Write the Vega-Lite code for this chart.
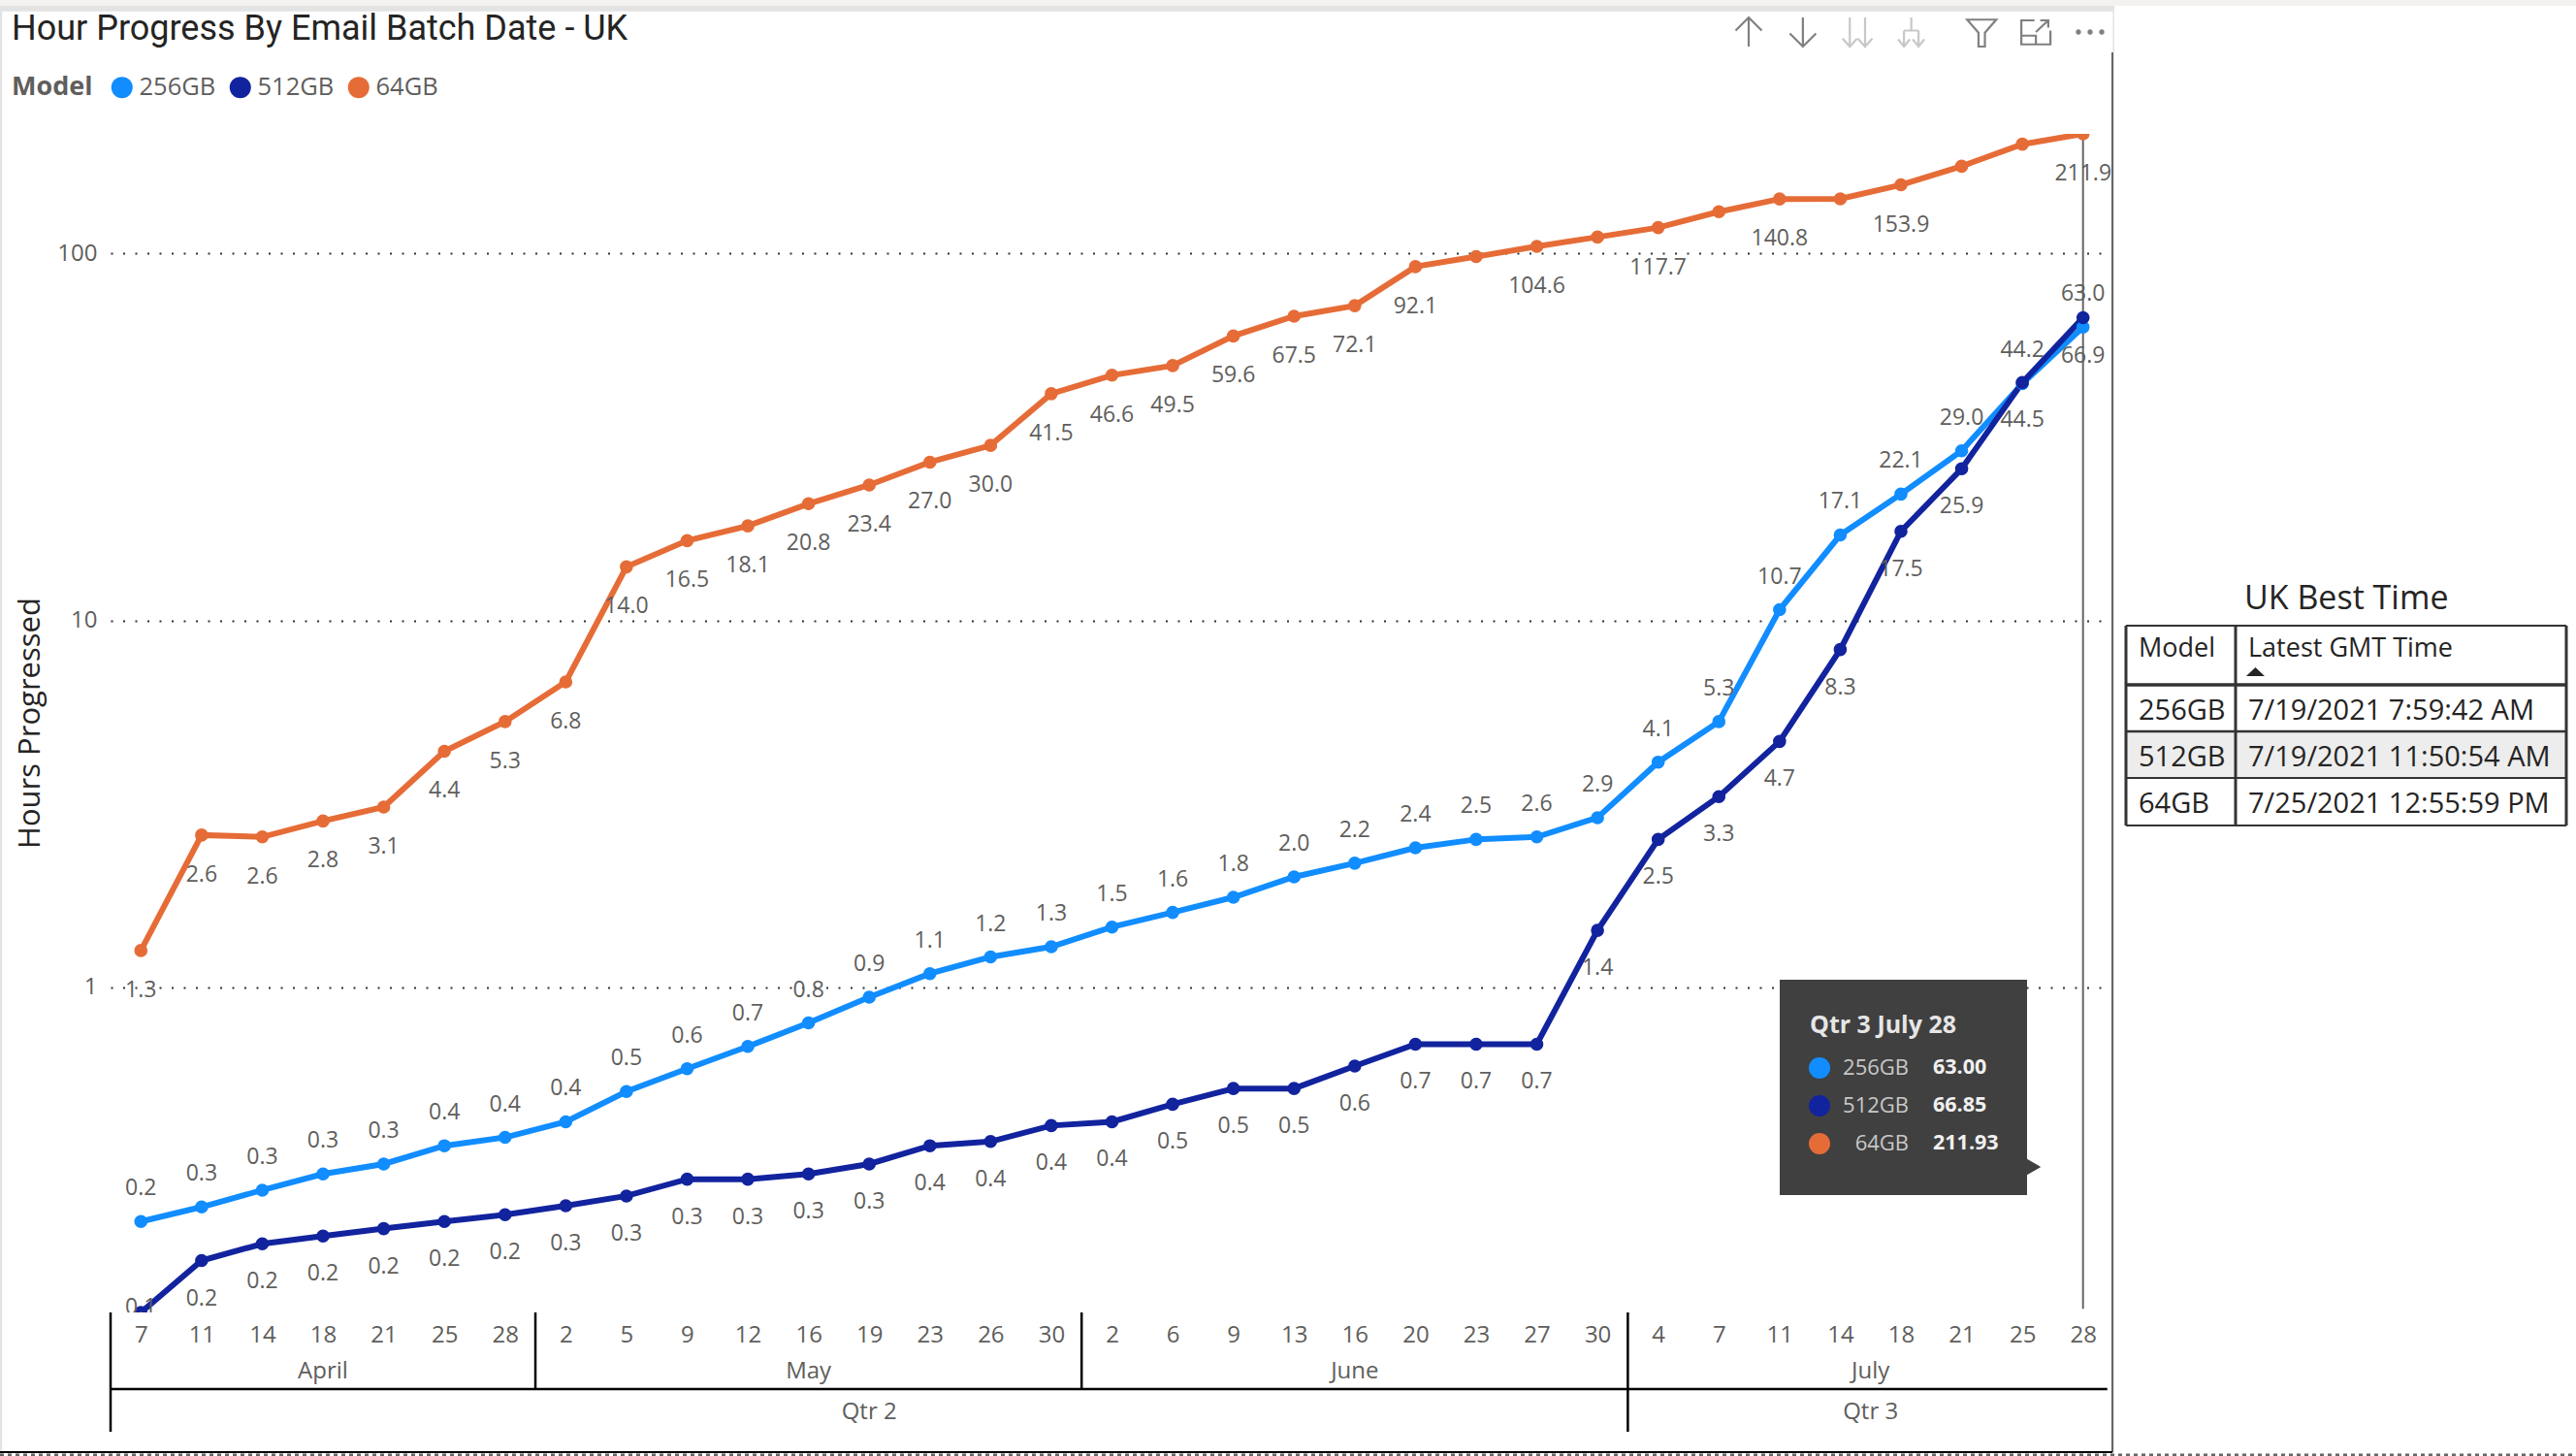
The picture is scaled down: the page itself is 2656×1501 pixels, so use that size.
{
  "$schema": "https://vega.github.io/schema/vega-lite/v6.json",
  "autosize": {"type": "none"},
  "padding": {"left": 121, "top": 138, "right": 489, "bottom": 148},
  "width": 2046,
  "height": 1215,
  "background": "#ffffff",
  "title": {
    "text": "Hour Progress By Email Batch Date - UK",
    "anchor": "start",
    "frame": "group",
    "dx": -109,
    "offset": -49,
    "font": "Roboto",
    "fontSize": 36,
    "fontWeight": "normal",
    "color": "#252423"
  },
  "config": {"font": "Open Sans", "view": {"stroke": null}},
  "datasets": {
    "series": [
      {"date": "2021-04-07", "Model": "256GB", "hours": 0.23},
      {"date": "2021-04-11", "Model": "256GB", "hours": 0.252},
      {"date": "2021-04-14", "Model": "256GB", "hours": 0.28},
      {"date": "2021-04-18", "Model": "256GB", "hours": 0.31},
      {"date": "2021-04-21", "Model": "256GB", "hours": 0.33},
      {"date": "2021-04-25", "Model": "256GB", "hours": 0.37},
      {"date": "2021-04-28", "Model": "256GB", "hours": 0.39},
      {"date": "2021-05-02", "Model": "256GB", "hours": 0.43},
      {"date": "2021-05-05", "Model": "256GB", "hours": 0.52},
      {"date": "2021-05-09", "Model": "256GB", "hours": 0.6},
      {"date": "2021-05-12", "Model": "256GB", "hours": 0.69},
      {"date": "2021-05-16", "Model": "256GB", "hours": 0.8},
      {"date": "2021-05-19", "Model": "256GB", "hours": 0.94},
      {"date": "2021-05-23", "Model": "256GB", "hours": 1.09},
      {"date": "2021-05-26", "Model": "256GB", "hours": 1.21},
      {"date": "2021-05-30", "Model": "256GB", "hours": 1.29},
      {"date": "2021-06-02", "Model": "256GB", "hours": 1.46},
      {"date": "2021-06-06", "Model": "256GB", "hours": 1.6},
      {"date": "2021-06-09", "Model": "256GB", "hours": 1.76},
      {"date": "2021-06-13", "Model": "256GB", "hours": 2.0},
      {"date": "2021-06-16", "Model": "256GB", "hours": 2.18},
      {"date": "2021-06-20", "Model": "256GB", "hours": 2.4},
      {"date": "2021-06-23", "Model": "256GB", "hours": 2.53},
      {"date": "2021-06-27", "Model": "256GB", "hours": 2.57},
      {"date": "2021-06-30", "Model": "256GB", "hours": 2.9},
      {"date": "2021-07-04", "Model": "256GB", "hours": 4.11},
      {"date": "2021-07-07", "Model": "256GB", "hours": 5.3},
      {"date": "2021-07-11", "Model": "256GB", "hours": 10.7},
      {"date": "2021-07-14", "Model": "256GB", "hours": 17.1},
      {"date": "2021-07-18", "Model": "256GB", "hours": 22.1},
      {"date": "2021-07-21", "Model": "256GB", "hours": 29.0},
      {"date": "2021-07-25", "Model": "256GB", "hours": 44.2},
      {"date": "2021-07-28", "Model": "256GB", "hours": 63.0},
      {"date": "2021-04-07", "Model": "512GB", "hours": 0.13},
      {"date": "2021-04-11", "Model": "512GB", "hours": 0.18},
      {"date": "2021-04-14", "Model": "512GB", "hours": 0.2},
      {"date": "2021-04-18", "Model": "512GB", "hours": 0.21},
      {"date": "2021-04-21", "Model": "512GB", "hours": 0.22},
      {"date": "2021-04-25", "Model": "512GB", "hours": 0.23},
      {"date": "2021-04-28", "Model": "512GB", "hours": 0.24},
      {"date": "2021-05-02", "Model": "512GB", "hours": 0.254},
      {"date": "2021-05-05", "Model": "512GB", "hours": 0.27},
      {"date": "2021-05-09", "Model": "512GB", "hours": 0.3},
      {"date": "2021-05-12", "Model": "512GB", "hours": 0.3},
      {"date": "2021-05-16", "Model": "512GB", "hours": 0.31},
      {"date": "2021-05-19", "Model": "512GB", "hours": 0.33},
      {"date": "2021-05-23", "Model": "512GB", "hours": 0.37},
      {"date": "2021-05-26", "Model": "512GB", "hours": 0.38},
      {"date": "2021-05-30", "Model": "512GB", "hours": 0.42},
      {"date": "2021-06-02", "Model": "512GB", "hours": 0.43},
      {"date": "2021-06-06", "Model": "512GB", "hours": 0.48},
      {"date": "2021-06-09", "Model": "512GB", "hours": 0.53},
      {"date": "2021-06-13", "Model": "512GB", "hours": 0.53},
      {"date": "2021-06-16", "Model": "512GB", "hours": 0.61},
      {"date": "2021-06-20", "Model": "512GB", "hours": 0.7},
      {"date": "2021-06-23", "Model": "512GB", "hours": 0.7},
      {"date": "2021-06-27", "Model": "512GB", "hours": 0.7},
      {"date": "2021-06-30", "Model": "512GB", "hours": 1.43},
      {"date": "2021-07-04", "Model": "512GB", "hours": 2.53},
      {"date": "2021-07-07", "Model": "512GB", "hours": 3.31},
      {"date": "2021-07-11", "Model": "512GB", "hours": 4.68},
      {"date": "2021-07-14", "Model": "512GB", "hours": 8.33},
      {"date": "2021-07-18", "Model": "512GB", "hours": 17.5},
      {"date": "2021-07-21", "Model": "512GB", "hours": 25.9},
      {"date": "2021-07-25", "Model": "512GB", "hours": 44.5},
      {"date": "2021-07-28", "Model": "512GB", "hours": 66.854},
      {"date": "2021-04-07", "Model": "64GB", "hours": 1.26},
      {"date": "2021-04-11", "Model": "64GB", "hours": 2.6},
      {"date": "2021-04-14", "Model": "64GB", "hours": 2.57},
      {"date": "2021-04-18", "Model": "64GB", "hours": 2.84},
      {"date": "2021-04-21", "Model": "64GB", "hours": 3.1},
      {"date": "2021-04-25", "Model": "64GB", "hours": 4.4},
      {"date": "2021-04-28", "Model": "64GB", "hours": 5.3},
      {"date": "2021-05-02", "Model": "64GB", "hours": 6.8},
      {"date": "2021-05-05", "Model": "64GB", "hours": 14.0},
      {"date": "2021-05-09", "Model": "64GB", "hours": 16.5},
      {"date": "2021-05-12", "Model": "64GB", "hours": 18.1},
      {"date": "2021-05-16", "Model": "64GB", "hours": 20.8},
      {"date": "2021-05-19", "Model": "64GB", "hours": 23.4},
      {"date": "2021-05-23", "Model": "64GB", "hours": 27.0},
      {"date": "2021-05-26", "Model": "64GB", "hours": 30.0},
      {"date": "2021-05-30", "Model": "64GB", "hours": 41.5},
      {"date": "2021-06-02", "Model": "64GB", "hours": 46.6},
      {"date": "2021-06-06", "Model": "64GB", "hours": 49.5},
      {"date": "2021-06-09", "Model": "64GB", "hours": 59.6},
      {"date": "2021-06-13", "Model": "64GB", "hours": 67.5},
      {"date": "2021-06-16", "Model": "64GB", "hours": 72.1},
      {"date": "2021-06-20", "Model": "64GB", "hours": 92.1},
      {"date": "2021-06-23", "Model": "64GB", "hours": 98.1},
      {"date": "2021-06-27", "Model": "64GB", "hours": 104.6},
      {"date": "2021-06-30", "Model": "64GB", "hours": 110.9},
      {"date": "2021-07-04", "Model": "64GB", "hours": 117.7},
      {"date": "2021-07-07", "Model": "64GB", "hours": 130.0},
      {"date": "2021-07-11", "Model": "64GB", "hours": 140.8},
      {"date": "2021-07-14", "Model": "64GB", "hours": 141.0},
      {"date": "2021-07-18", "Model": "64GB", "hours": 153.9},
      {"date": "2021-07-21", "Model": "64GB", "hours": 173.0},
      {"date": "2021-07-25", "Model": "64GB", "hours": 198.6},
      {"date": "2021-07-28", "Model": "64GB", "hours": 211.93}
    ],
    "crosshair": [{"date": "2021-07-28", "low": 0.133, "high": 211.93}],
    "axisLines": [
      {"pos": 0, "pos2": 32.9, "level": 3},
      {"pos": 0, "level": 0, "level2": 5},
      {"pos": 7, "level": 0, "level2": 3},
      {"pos": 16, "level": 0, "level2": 3},
      {"pos": 25, "level": 0, "level2": 5}
    ],
    "axisText": [
      {"label": "April", "pos": 3.5, "level": 2},
      {"label": "May", "pos": 11.5, "level": 2},
      {"label": "June", "pos": 20.5, "level": 2},
      {"label": "July", "pos": 29, "level": 2},
      {"label": "Qtr 2", "pos": 12.5, "level": 4},
      {"label": "Qtr 3", "pos": 29, "level": 4}
    ],
    "tipBox": [{"col": 0, "col2": 5, "row": 0, "row2": 5}],
    "tipArrow": [{"col": 6, "row": 4.5}],
    "tipTitle": [{"col": 1, "row": 1, "label": "Qtr 3 July 28"}],
    "tipRows": [
      {"Model": "256GB", "value": "63.00", "row": 2, "swatch": 2, "name": 3, "number": 4},
      {"Model": "512GB", "value": "66.85", "row": 3, "swatch": 2, "name": 3, "number": 4},
      {"Model": "64GB", "value": "211.93", "row": 4, "swatch": 2, "name": 3, "number": 4}
    ],
    "tableStripe": [{"col": 0, "col2": 2, "row": 2, "row2": 3}],
    "tableRows": [
      {"col": 0, "col2": 2, "row": 0, "weight": 2},
      {"col": 0, "col2": 2, "row": 1, "weight": 3.5},
      {"col": 0, "col2": 2, "row": 2, "weight": 2.5},
      {"col": 0, "col2": 2, "row": 3, "weight": 2},
      {"col": 0, "col2": 2, "row": 4, "weight": 2}
    ],
    "tableCols": [
      {"col": 0, "row": 0, "row2": 4},
      {"col": 1, "row": 0, "row2": 4},
      {"col": 2, "row": 0, "row2": 4}
    ],
    "tableHead": [
      {"col": 0, "row": 0.4, "text": "Model"},
      {"col": 1, "row": 0.4, "text": "Latest GMT Time"}
    ],
    "tableText": [
      {"col": 0, "row": 1.56, "text": "256GB"},
      {"col": 1, "row": 1.56, "text": "7/19/2021 7:59:42 AM"},
      {"col": 0, "row": 2.56, "text": "512GB"},
      {"col": 1, "row": 2.56, "text": "7/19/2021 11:50:54 AM"},
      {"col": 0, "row": 3.56, "text": "64GB"},
      {"col": 1, "row": 3.56, "text": "7/25/2021 12:55:59 PM"}
    ],
    "tableSort": [{"col": 1.06, "row": 0.78}],
    "tableTitle": [{"col": 1.335, "row": -0.35, "text": "UK Best Time"}],
    "icons": [
      {"slot": 0, "icon": "up", "state": "on", "row": 0},
      {"slot": 1, "icon": "down", "state": "on", "row": 0},
      {"slot": 2, "icon": "double", "state": "off", "row": 0},
      {"slot": 3, "icon": "fork", "state": "off", "row": 0},
      {"slot": 4.3, "icon": "filter", "state": "on", "row": 0},
      {"slot": 5.3, "icon": "focus", "state": "on", "row": 0}
    ],
    "iconDots": [
      {"slot": 6.085, "row": 0},
      {"slot": 6.3, "row": 0},
      {"slot": 6.515, "row": 0}
    ],
    "frameFills": [
      {"x": 0, "x2": 2, "y": 0, "y2": 1, "part": "strip"},
      {"x": 0, "x2": 1.004, "y": 1, "y2": 1.12, "part": "edge"},
      {"x": 1.001, "x2": 1.004, "y": 1, "y2": 4, "part": "edge"},
      {"x": 0, "x2": 0.001, "y": 1, "y2": 4, "part": "edge"}
    ],
    "frameSide": [{"x": 1, "y": 2, "y2": 3}],
    "frameBase": [{"x": 0, "x2": 1, "y": 3}],
    "frameDots": [{"x": 0, "x2": 2, "y": 4}]
  },
  "layer": [
    {
      "encoding": {
        "x": {
          "field": "date",
          "type": "ordinal",
          "title": null,
          "scale": {"type": "point", "range": [-7, 2058], "padding": 0.5},
          "axis": {
            "labelExpr": "toNumber(split(datum.value, '-')[2])",
            "labelAngle": 0,
            "labelFontSize": 24,
            "labelColor": "#605E5C",
            "labelPadding": 11,
            "labelOverlap": false,
            "ticks": false,
            "domain": false,
            "grid": false
          }
        },
        "y": {
          "field": "hours",
          "type": "quantitative",
          "title": "Hours Progressed",
          "scale": {"type": "log", "domain": [0.13, 211.93], "nice": false},
          "axis": {
            "values": [1, 10, 100],
            "format": "d",
            "labelFontSize": 24,
            "labelColor": "#605E5C",
            "labelPadding": 21,
            "ticks": false,
            "domain": false,
            "grid": true,
            "gridColor": "#333333",
            "gridWidth": 2,
            "gridDash": [2, 10.5],
            "titleFontSize": 31,
            "titleFontWeight": "normal",
            "titleColor": "#252423",
            "titleX": -74,
            "titleY": 607
          }
        }
      },
      "layer": [
        {
          "data": {"name": "crosshair"},
          "mark": {"type": "rule", "color": "#666666", "strokeWidth": 2},
          "encoding": {
            "y": {"field": "low", "type": "quantitative"},
            "y2": {"field": "high"}
          }
        },
        {
          "data": {"name": "series"},
          "mark": {"type": "line", "strokeWidth": 6, "clip": true},
          "encoding": {
            "stroke": {
              "field": "Model",
              "type": "nominal",
              "scale": {"domain": ["256GB", "512GB", "64GB"], "range": ["#118DFF", "#12239E", "#E66C37"]},
              "legend": null
            }
          }
        },
        {
          "data": {"name": "series"},
          "mark": {"type": "point", "filled": true, "opacity": 1, "size": 185, "clip": true},
          "encoding": {
            "color": {
              "field": "Model",
              "type": "nominal",
              "scale": {"domain": ["256GB", "512GB", "64GB"], "range": ["#118DFF", "#12239E", "#E66C37"]},
              "legend": {
                "orient": "none",
                "legendX": -109,
                "legendY": -61,
                "direction": "horizontal",
                "columns": 3,
                "title": "Model",
                "titleOrient": "left",
                "titleFontSize": 27,
                "titleFontWeight": "bold",
                "titleColor": "#605E5C",
                "titlePadding": 17,
                "labelFontSize": 25.5,
                "labelColor": "#605E5C",
                "labelOffset": 5,
                "symbolType": "circle",
                "symbolSize": 484,
                "symbolStrokeWidth": 0,
                "columnPadding": 12
              }
            }
          }
        },
        {
          "data": {"name": "series"},
          "transform": [{"filter": "datum.Model == '256GB'"}],
          "mark": {"type": "text", "fontSize": 23, "color": "#605E5C", "dy": -34},
          "encoding": {"text": {"field": "hours", "type": "quantitative", "format": ".1f"}}
        },
        {
          "data": {"name": "series"},
          "transform": [{"filter": "datum.Model == '512GB' && datum.date != '2021-04-07'"}],
          "mark": {"type": "text", "fontSize": 23, "color": "#605E5C", "dy": 39},
          "encoding": {"text": {"field": "hours", "type": "quantitative", "format": ".1f"}}
        },
        {
          "data": {"name": "series"},
          "transform": [{"filter": "datum.Model == '512GB' && datum.date == '2021-04-07'"}],
          "mark": {"type": "text", "fontSize": 23, "color": "#605E5C", "dy": -5, "clip": true},
          "encoding": {"text": {"field": "hours", "type": "quantitative", "format": ".1f"}}
        },
        {
          "data": {"name": "series"},
          "transform": [{"filter": "datum.Model == '64GB' && indexof(['2021-06-23', '2021-06-30', '2021-07-07', '2021-07-14', '2021-07-21', '2021-07-25'], datum.date) < 0"}],
          "mark": {"type": "text", "fontSize": 23, "color": "#605E5C", "dy": 41},
          "encoding": {"text": {"field": "hours", "type": "quantitative", "format": ".1f"}}
        }
      ]
    },
    {
      "encoding": {
        "x": {"field": "pos", "type": "quantitative", "axis": null, "scale": {"domain": [0, 33], "range": [-7, 2058]}},
        "y": {"field": "level", "type": "quantitative", "axis": null, "scale": {"domain": [0, 1, 2, 3, 4, 5], "range": [1215, 1239, 1276, 1294, 1318, 1338]}}
      },
      "layer": [
        {
          "data": {"name": "axisLines"},
          "mark": {"type": "rule", "color": "#000000", "strokeWidth": 2.5},
          "encoding": {"x2": {"field": "pos2"}, "y2": {"field": "level2"}}
        },
        {
          "data": {"name": "axisText"},
          "mark": {"type": "text", "fontSize": 24, "color": "#605E5C"},
          "encoding": {"text": {"field": "label"}}
        }
      ]
    },
    {
      "encoding": {
        "x": {"field": "col", "type": "quantitative", "axis": null, "scale": {"domain": [0, 1, 2, 3, 4, 5, 6], "range": [1714, 1745, 1755, 1847, 1872, 1969, 1972]}},
        "y": {"field": "row", "type": "quantitative", "axis": null, "scale": {"domain": [0, 1, 2, 3, 4, 4.5, 5], "range": [872, 919, 963, 1002, 1041, 1065, 1094]}}
      },
      "layer": [
        {
          "data": {"name": "tipBox"},
          "mark": {"type": "rect", "color": "#404040"},
          "encoding": {"x2": {"field": "col2"}, "y2": {"field": "row2"}}
        },
        {
          "data": {"name": "tipArrow"},
          "mark": {"type": "point", "shape": "triangle-right", "filled": true, "opacity": 1, "size": 676, "color": "#404040"}
        },
        {
          "data": {"name": "tipTitle"},
          "mark": {"type": "text", "align": "left", "fontSize": 25, "fontWeight": "bold", "color": "#E6E6E6"},
          "encoding": {"text": {"field": "label"}}
        },
        {
          "data": {"name": "tipRows"},
          "mark": {"type": "point", "filled": true, "opacity": 1, "size": 484},
          "encoding": {
            "x": {"field": "swatch", "type": "quantitative"},
            "fill": {
              "field": "Model",
              "type": "nominal",
              "scale": {"domain": ["256GB", "512GB", "64GB"], "range": ["#118DFF", "#12239E", "#E66C37"]},
              "legend": null
            }
          }
        },
        {
          "data": {"name": "tipRows"},
          "mark": {"type": "text", "align": "right", "fontSize": 22, "color": "#C8C8C8"},
          "encoding": {
            "x": {"field": "name", "type": "quantitative"},
            "text": {"field": "Model"}
          }
        },
        {
          "data": {"name": "tipRows"},
          "mark": {"type": "text", "align": "left", "fontSize": 21.5, "fontWeight": "bold", "color": "#F0F0F0"},
          "encoding": {
            "x": {"field": "number", "type": "quantitative"},
            "text": {"field": "value"}
          }
        }
      ]
    },
    {
      "encoding": {
        "x": {"field": "col", "type": "quantitative", "axis": null, "scale": {"domain": [0, 1, 2], "range": [2071, 2184, 2525]}},
        "y": {"field": "row", "type": "quantitative", "axis": null, "scale": {"domain": [-1, 0, 1, 2, 3, 4], "range": [429, 507, 568, 616, 664, 713]}}
      },
      "layer": [
        {
          "data": {"name": "tableStripe"},
          "mark": {"type": "rect", "color": "#EDEDED"},
          "encoding": {"x2": {"field": "col2"}, "y2": {"field": "row2"}}
        },
        {
          "data": {"name": "tableRows"},
          "mark": {"type": "rule", "color": "#333333"},
          "encoding": {"x2": {"field": "col2"}, "strokeWidth": {"field": "weight", "type": "quantitative", "scale": null}}
        },
        {
          "data": {"name": "tableCols"},
          "mark": {"type": "rule", "color": "#333333", "strokeWidth": 3},
          "encoding": {"y2": {"field": "row2"}}
        },
        {
          "data": {"name": "tableHead"},
          "mark": {"type": "text", "align": "left", "dx": 13, "fontSize": 27, "color": "#252423"},
          "encoding": {"text": {"field": "text"}}
        },
        {
          "data": {"name": "tableText"},
          "mark": {"type": "text", "align": "left", "dx": 13, "fontSize": 29, "color": "#252423"},
          "encoding": {"text": {"field": "text"}}
        },
        {
          "data": {"name": "tableSort"},
          "mark": {"type": "point", "shape": "M-1,0.47L0,-0.47L1,0.47Z", "filled": true, "opacity": 1, "size": 361, "color": "#252423"}
        },
        {
          "data": {"name": "tableTitle"},
          "mark": {"type": "text", "fontSize": 34, "color": "#252423"},
          "encoding": {"text": {"field": "text"}}
        }
      ]
    },
    {
      "encoding": {
        "x": {"field": "slot", "type": "quantitative", "axis": null, "scale": {"domain": [0, 6.3], "range": [1682, 2034]}},
        "y": {"field": "row", "type": "quantitative", "axis": null, "scale": {"domain": [0, 1], "range": [-105, -104]}}
      },
      "layer": [
        {
          "data": {"name": "icons"},
          "mark": {"type": "point", "filled": false, "opacity": 1, "size": 900, "strokeWidth": 2.2},
          "encoding": {
            "shape": {
              "field": "icon",
              "type": "nominal",
              "legend": null,
              "scale": {
                "domain": ["up", "down", "double", "fork", "filter", "focus"],
                "range": [
                  "M0,1L0,-1M-0.9,-0.1L0,-1L0.9,-0.1",
                  "M0,-1L0,1M-0.9,0.1L0,1L0.9,0.1",
                  "M-0.5,-1L-0.5,1M-1,0.45L-0.5,1L0,0.45M0.55,-1L0.55,1M0.05,0.45L0.55,1L1.05,0.45",
                  "M0,-1L0,-0.1M-0.5,-0.1L0.5,-0.1M-0.5,-0.1L-0.5,1M0.5,-0.1L0.5,1M-0.9,0.5L-0.5,1L-0.1,0.5M0.1,0.5L0.5,1L0.9,0.5",
                  "M-1,-0.85L1,-0.85L0.22,0.05L0.22,1L-0.22,1L-0.22,0.05Z",
                  "M-0.1,-0.8L-1,-0.8L-1,0.85L1,0.85L1,-0.1M-1,0.25L0,0.25L0,0.85M0,0L0.85,-0.8M0.3,-0.8L0.85,-0.8L0.85,-0.3"
                ]
              }
            },
            "stroke": {
              "field": "state",
              "type": "nominal",
              "legend": null,
              "scale": {"domain": ["on", "off"], "range": ["#808080", "#C8C8C8"]}
            }
          }
        },
        {
          "data": {"name": "iconDots"},
          "mark": {"type": "point", "filled": true, "opacity": 1, "size": 28, "color": "#808080"}
        }
      ]
    },
    {
      "encoding": {
        "x": {"field": "x", "type": "quantitative", "axis": null, "scale": {"domain": [0, 1, 2], "range": [-121, 2057, 2535]}},
        "y": {"field": "y", "type": "quantitative", "axis": null, "scale": {"domain": [0, 1, 2, 3, 4], "range": [-138, -132, -84, 1359, 1362]}}
      },
      "layer": [
        {
          "data": {"name": "frameFills"},
          "mark": {"type": "rect"},
          "encoding": {
            "x2": {"field": "x2"},
            "y2": {"field": "y2"},
            "fill": {
              "field": "part",
              "type": "nominal",
              "legend": null,
              "scale": {"domain": ["strip", "edge"], "range": ["#F3F2F1", "#E3E3E3"]}
            }
          }
        },
        {
          "data": {"name": "frameSide"},
          "mark": {"type": "rule", "color": "#666666", "strokeWidth": 2},
          "encoding": {"y2": {"field": "y2"}}
        },
        {
          "data": {"name": "frameBase"},
          "mark": {"type": "rule", "color": "#000000", "strokeWidth": 2},
          "encoding": {"x2": {"field": "x2"}}
        },
        {
          "data": {"name": "frameDots"},
          "mark": {"type": "rule", "color": "#666666", "strokeWidth": 3, "strokeDash": [4, 4]},
          "encoding": {"x2": {"field": "x2"}}
        }
      ]
    }
  ],
  "resolve": {
    "scale": {"x": "independent", "y": "independent", "shape": "independent", "fill": "independent", "stroke": "independent"}
  }
}
